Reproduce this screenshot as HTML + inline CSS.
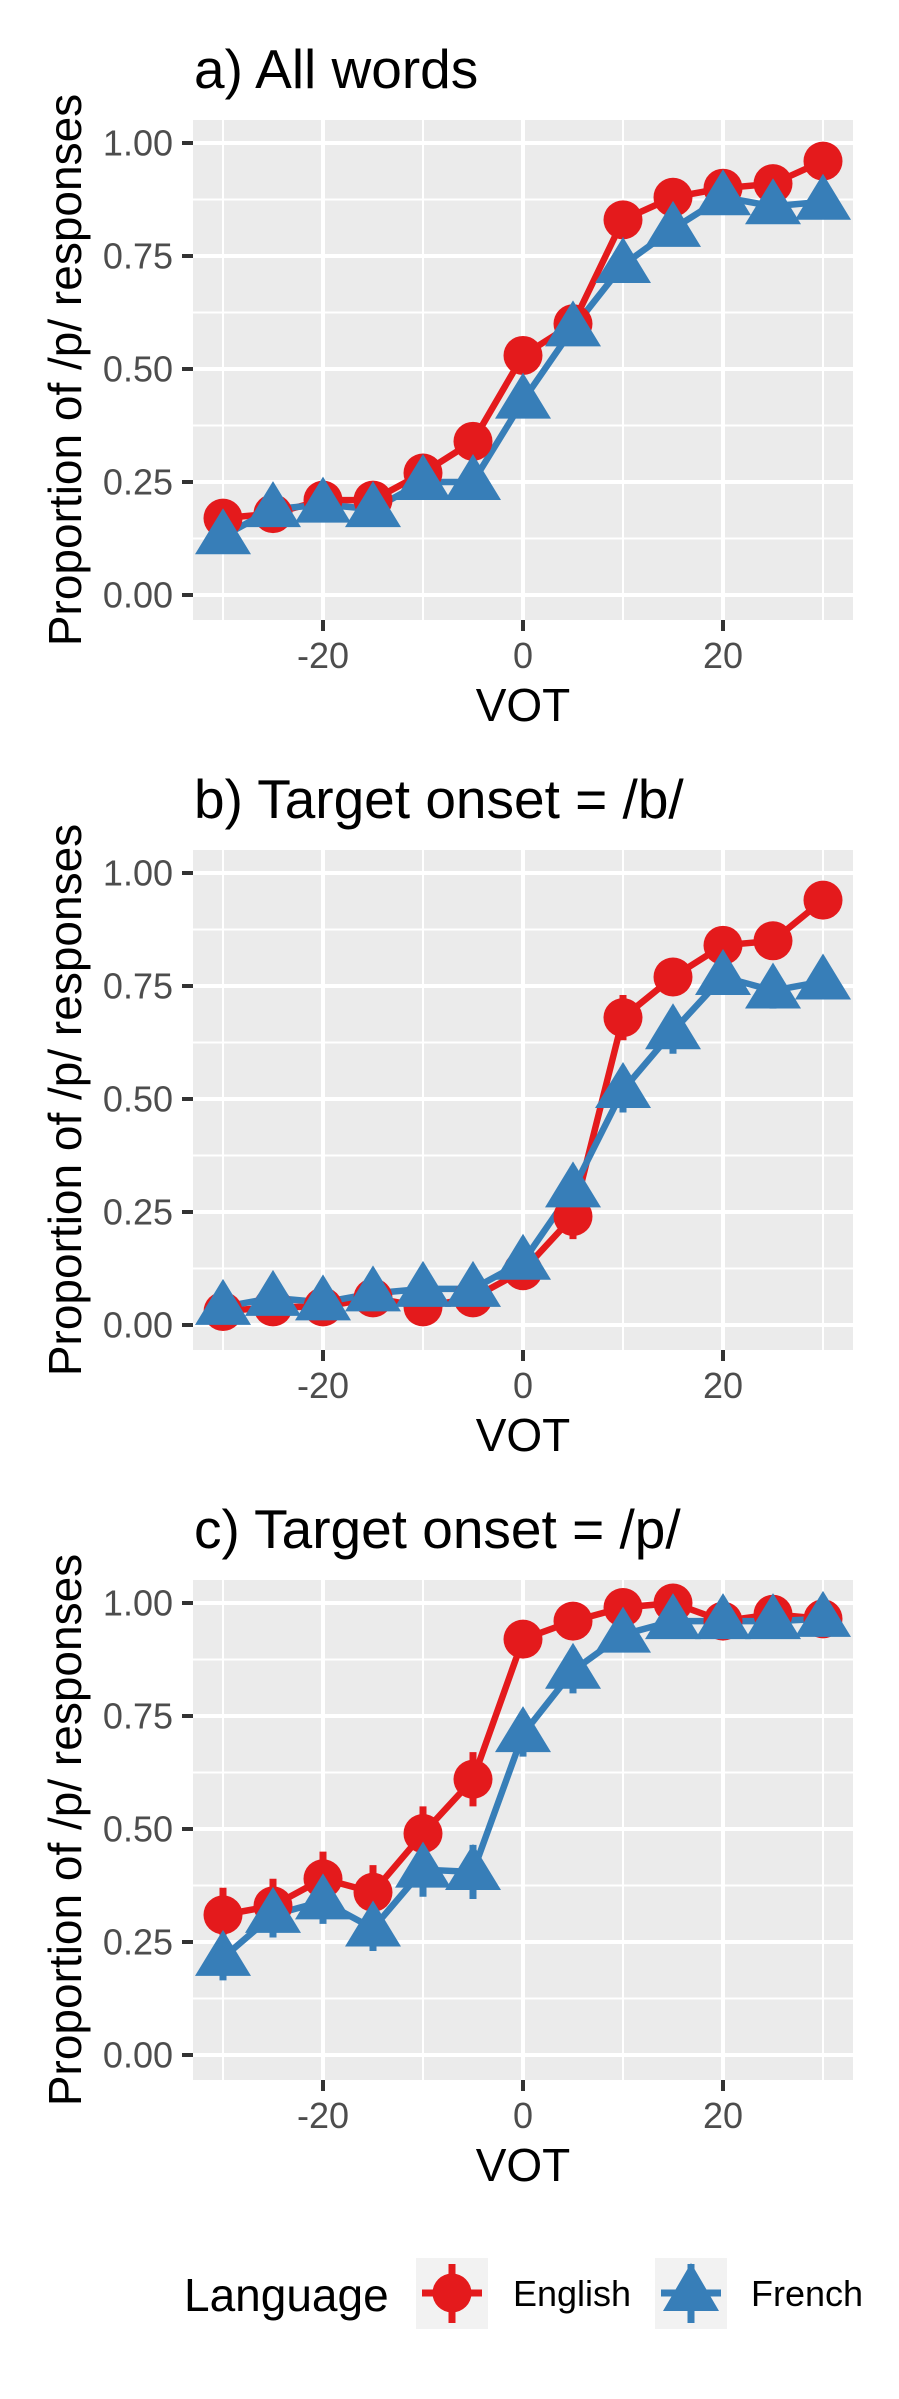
<!DOCTYPE html>
<html>
<head>
<meta charset="utf-8">
<style>
html,body{margin:0;padding:0;background:#fff;}
svg{display:block;}
text{font-family:"Liberation Sans",Arial,sans-serif;}
</style>
</head>
<body>
<svg id="chart" width="899" height="2399" viewBox="0 0 899 2399" xmlns="http://www.w3.org/2000/svg"></svg>
<script>
// ---- data ----
const vot = [-30,-25,-20,-15,-10,-5,0,5,10,15,20,25,30];
const panelTitles = ["a) All words","b) Target onset = /b/","c) Target onset = /p/"];
const yTicks = [0,0.25,0.5,0.75,1];
const yTickLabels = ["0.00","0.25","0.50","0.75","1.00"];
const xTicks = [-20,0,20];
const xTickLabels = ["-20","0","20"];
const engA = [0.17,0.18,0.21,0.21,0.27,0.34,0.53,0.60,0.83,0.88,0.90,0.91,0.96];
const freA = [0.13,0.19,0.20,0.19,0.25,0.25,0.43,0.59,0.73,0.81,0.88,0.86,0.87];
const engB = [0.03,0.04,0.04,0.06,0.04,0.06,0.12,0.24,0.68,0.77,0.84,0.85,0.94];
const freB = [0.04,0.06,0.05,0.07,0.08,0.08,0.14,0.30,0.52,0.65,0.77,0.74,0.76];
const engC = [0.31,0.33,0.39,0.36,0.49,0.61,0.92,0.96,0.99,1.00,0.96,0.975,0.965];
const freC = [0.215,0.31,0.34,0.28,0.41,0.405,0.71,0.85,0.93,0.96,0.96,0.96,0.965];
const seEngA = [0.02,0.02,0.02,0.02,0.02,0.03,0.03,0.03,0.02,0.02,0.02,0.02,0.015];
const seFreA = [0.02,0.02,0.02,0.02,0.02,0.02,0.03,0.03,0.03,0.02,0.02,0.02,0.02];
const seEngB = [0.02,0.02,0.02,0.02,0.02,0.02,0.03,0.05,0.05,0.04,0.04,0.04,0.02];
const seFreB = [0.02,0.02,0.02,0.02,0.02,0.02,0.03,0.05,0.05,0.05,0.04,0.04,0.04];
const seEngC = [0.06,0.06,0.06,0.06,0.06,0.06,0.03,0.02,0.02,0.02,0.03,0.02,0.03];
const seFreC = [0.05,0.05,0.05,0.05,0.06,0.06,0.05,0.05,0.03,0.03,0.03,0.03,0.03];

const engSeries = [engA,engB,engC];
const freSeries = [freA,freB,freC];
const engSe = [seEngA,seEngB,seEngC];
const freSe = [seFreA,seFreB,seFreC];

const RED = "#E41A1C", BLUE = "#377EB8";
const svg = document.getElementById("chart");
const NS = "http://www.w3.org/2000/svg";
function mk(tag, attrs, parent){
  const e = document.createElementNS(NS, tag);
  for (const k in attrs) e.setAttribute(k, attrs[k]);
  (parent||svg).appendChild(e);
  return e;
}

const PL = 193, PR = 853, PH = 500, PANEL_STEP = 730, FIRST_TOP = 120;

for (let p = 0; p < 3; p++) {
  const top = FIRST_TOP + p*PANEL_STEP, bottom = top + PH;
  const y0 = top + 475; // y=0
  const yScale = v => y0 - v*452;
  const xScale = v => 523 + v*10;
  const g = mk("g", {});
  
  

  const title = mk("text", {x:194, y:top-32, "font-size":55, fill:"#000"}, g);
  title.textContent = panelTitles[p];
  
  

  const bg = mk("rect", {x:PL, y:top, width:PR-PL, height:PH, fill:"#EBEBEB"}, g);
  
  

  for (let i = 0; i < yTicks.length-1; i++) {
    const v = (yTicks[i]+yTicks[i+1])/2;
    const l = mk("line", {x1:PL, x2:PR, y1:yScale(v), y2:yScale(v), stroke:"#fff", "stroke-width":2}, g);
    
    
  }
  [-30,-10,10,30].forEach(v => {
    const l = mk("line", {x1:xScale(v), x2:xScale(v), y1:top, y2:bottom, stroke:"#fff", "stroke-width":2}, g);
    
    
  });
  yTicks.forEach((v,i) => {
    const y = yScale(v);
    const l = mk("line", {x1:PL, x2:PR, y1:y, y2:y, stroke:"#fff", "stroke-width":4}, g);
    
    
    const t = mk("line", {x1:182, x2:PL, y1:y, y2:y, stroke:"#333", "stroke-width":4}, g);
    
    
    const tx = mk("text", {x:173, y:y+12.5, "font-size":36, fill:"#4D4D4D", "text-anchor":"end"}, g);
    tx.textContent = yTickLabels[i];
    
    
  });
  xTicks.forEach((v,i) => {
    const x = xScale(v);
    const l = mk("line", {x1:x, x2:x, y1:top, y2:bottom, stroke:"#fff", "stroke-width":4}, g);
    
    
    const t = mk("line", {x1:x, x2:x, y1:bottom, y2:bottom+11, stroke:"#333", "stroke-width":4}, g);
    
    
    const tx = mk("text", {x:x, y:bottom+48, "font-size":36, fill:"#4D4D4D", "text-anchor":"middle"}, g);
    tx.textContent = xTickLabels[i];
    
    
  });
  const xt = mk("text", {x:523, y:bottom+101, "font-size":46, fill:"#000", "text-anchor":"middle"}, g);
  xt.textContent = "VOT";
  
  
  const cy = top + PH/2;
  const yt = mk("text", {x:0, y:0, "font-size":46, fill:"#000", "text-anchor":"middle", transform:`translate(81,${cy}) rotate(-90)`}, g);
  yt.textContent = "Proportion of /p/ responses";
  
  

  const series = [
    {vals: engSeries[p], se: engSe[p], color: RED, shape: "circle", name: "english"},
    {vals: freSeries[p], se: freSe[p], color: BLUE, shape: "triangle", name: "french"}
  ];
  series.forEach(s => {
    s.vals.forEach((v,i) => {
      const x = xScale(vot[i]);
      const e = mk("line", {x1:x, x2:x, y1:yScale(v+s.se[i]), y2:yScale(v-s.se[i]), stroke:s.color, "stroke-width":7}, g);
      
      
    });
  });
  series.forEach(s => {
    const pts = s.vals.map((v,i) => xScale(vot[i]) + "," + yScale(v)).join(" ");
    const pl = mk("polyline", {points:pts, fill:"none", stroke:s.color, "stroke-width":6.5, "stroke-linejoin":"round"}, g);
    
    
  });
  series.forEach(s => {
    s.vals.forEach((v,i) => {
      const x = xScale(vot[i]), y = yScale(v);
      let m;
      if (s.shape === "circle") {
        m = mk("circle", {cx:x, cy:y, r:19.5, fill:s.color}, g);
      } else {
        m = mk("polygon", {points:`${x},${y-28} ${x+28},${y+18} ${x-28},${y+18}`, fill:s.color}, g);
      }
      
      
    });
  });
}

// ---- legend ----
const lg = mk("g", {});


const lt = mk("text", {x:184, y:2311, "font-size":46, fill:"#000"}, lg);
lt.textContent = "Language";


const legendItems = [{label:"English", color:RED, shape:"circle", x:416, tx:513},
                     {label:"French", color:BLUE, shape:"triangle", x:655, tx:751}];
legendItems.forEach(it => {
  const eg = mk("g", {}, lg);
  
  
  const k = mk("rect", {x:it.x, y:2258, width:72, height:71, fill:"#F2F2F2"}, eg);
  
  
  const cx = it.x + 36, cy = 2293;
  const h = mk("line", {x1:it.x+6, x2:it.x+66, y1:cy, y2:cy, stroke:it.color, "stroke-width":7}, eg);
  
  
  const v = mk("line", {x1:cx, x2:cx, y1:2264, y2:2323, stroke:it.color, "stroke-width":7}, eg);
  
  
  let m;
  if (it.shape === "circle") m = mk("circle", {cx:cx, cy:cy, r:19.5, fill:it.color}, eg);
  else m = mk("polygon", {points:`${cx},${cy-30} ${cx+28},${cy+18} ${cx-28},${cy+18}`, fill:it.color}, eg);
  
  
  const t = mk("text", {x:it.tx, y:2306, "font-size":36, fill:"#000"}, eg);
  t.textContent = it.label;
  
  
});
</script>
</body>
</html>
